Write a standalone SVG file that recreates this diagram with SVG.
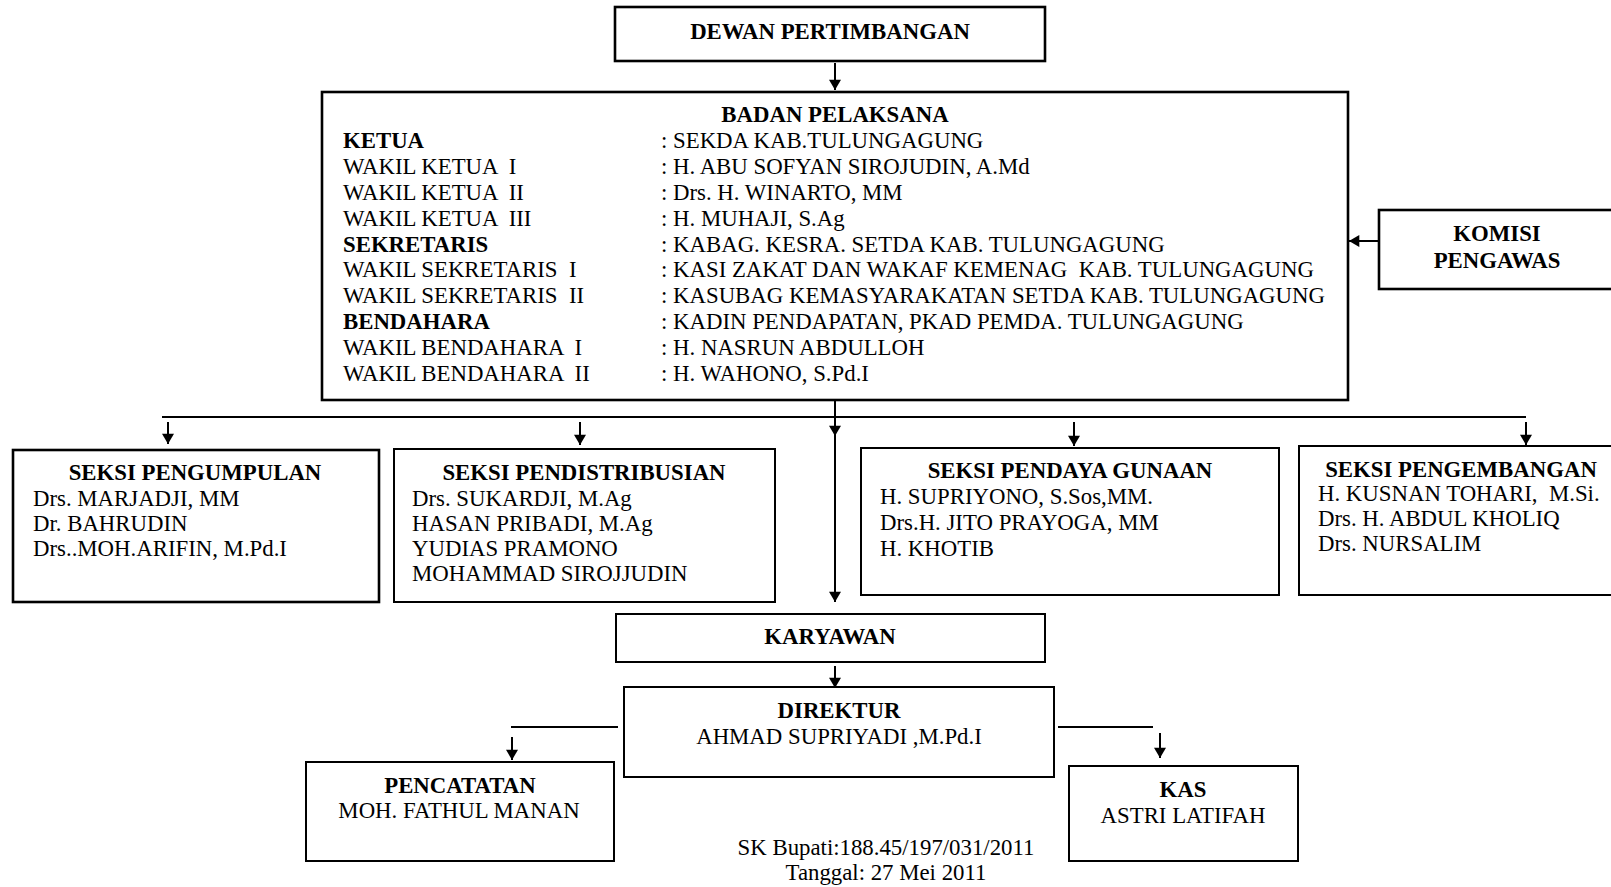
<svg xmlns="http://www.w3.org/2000/svg" width="1611" height="887" viewBox="0 0 1611 887">
<style>
text{font-family:"Liberation Serif","Times New Roman",serif;font-size:22.8px;fill:#000;white-space:pre}
.b{font-weight:bold}
.c{text-anchor:middle}
.box{fill:#fff;stroke:#000;stroke-width:2}
.bx{fill:#fff;stroke:#000;stroke-width:2.6}
.ln{fill:none;stroke:#000;stroke-width:2}
.ar{fill:none;stroke:#000;stroke-width:2;marker-end:url(#ah)}
</style>
<defs>
<marker id="ah" viewBox="0 0 12 14" refX="12" refY="7" markerWidth="14" markerHeight="12" markerUnits="userSpaceOnUse" orient="auto">
<path d="M0,0 L12,7 L0,14 Z" fill="#000"/>
</marker>
</defs>
<rect width="1611" height="887" fill="#fff"/>

<g id="connectors">
<path class="ar" d="M835,63 V90"/>
<path class="ar" d="M1379,241 H1349"/>
<path class="ar" d="M835,392 V436"/>
<path class="ar" d="M835,430 V602"/>
<path class="ln" d="M162,417 H1526"/>
<path class="ar" d="M168,422 V444"/>
<path class="ar" d="M580,422 V445"/>
<path class="ar" d="M1074,422 V446"/>
<path class="ar" d="M1526,422 V445"/>
<path class="ar" d="M835,666 V688"/>
<path class="ln" d="M511,727 H618"/>
<path class="ar" d="M512,737 V760"/>
<path class="ln" d="M1058,727 H1153"/>
<path class="ar" d="M1160,733 V758"/>
</g>

<g id="dewan">
<rect class="bx" x="615" y="7" width="430" height="54"/>
<text class="b c" x="830" y="39">DEWAN PERTIMBANGAN</text>
</g>

<g id="badan">
<rect class="bx" x="322" y="92" width="1026" height="308"/>
<text class="b c" x="835" y="122">BADAN PELAKSANA</text>
<text class="b" x="343" y="148">KETUA</text>
<text x="343" y="174">WAKIL KETUA  I</text>
<text x="343" y="200">WAKIL KETUA  II</text>
<text x="343" y="226">WAKIL KETUA  III</text>
<text class="b" x="343" y="252">SEKRETARIS</text>
<text x="343" y="277">WAKIL SEKRETARIS  I</text>
<text x="343" y="303">WAKIL SEKRETARIS  II</text>
<text class="b" x="343" y="329">BENDAHARA</text>
<text x="343" y="355">WAKIL BENDAHARA  I</text>
<text x="343" y="381">WAKIL BENDAHARA  II</text>
<text x="661" y="148">: SEKDA KAB.TULUNGAGUNG</text>
<text x="661" y="174">: H. ABU SOFYAN SIROJUDIN, A.Md</text>
<text x="661" y="200">: Drs. H. WINARTO, MM</text>
<text x="661" y="226">: H. MUHAJI, S.Ag</text>
<text x="661" y="252">: KABAG. KESRA. SETDA KAB. TULUNGAGUNG</text>
<text x="661" y="277">: KASI ZAKAT DAN WAKAF KEMENAG  KAB. TULUNGAGUNG</text>
<text x="661" y="303">: KASUBAG KEMASYARAKATAN SETDA KAB. TULUNGAGUNG</text>
<text x="661" y="329">: KADIN PENDAPATAN, PKAD PEMDA. TULUNGAGUNG</text>
<text x="661" y="355">: H. NASRUN ABDULLOH</text>
<text x="661" y="381">: H. WAHONO, S.Pd.I</text>
</g>

<g id="komisi">
<rect class="bx" x="1379" y="210" width="240" height="79"/>
<text class="b c" x="1497" y="241">KOMISI</text>
<text class="b c" x="1497" y="268">PENGAWAS</text>
</g>

<g id="seksi-pengumpulan">
<rect class="bx" x="13" y="450" width="366" height="152"/>
<text class="b c" x="195" y="480">SEKSI PENGUMPULAN</text>
<text x="33" y="506">Drs. MARJADJI, MM</text>
<text x="33" y="531">Dr. BAHRUDIN</text>
<text x="33" y="556">Drs..MOH.ARIFIN, M.Pd.I</text>
</g>

<g id="seksi-pendistribusian">
<rect class="box" x="394" y="449" width="381" height="153"/>
<text class="b c" x="584" y="480">SEKSI PENDISTRIBUSIAN</text>
<text x="412" y="506">Drs. SUKARDJI, M.Ag</text>
<text x="412" y="531">HASAN PRIBADI, M.Ag</text>
<text x="412" y="556">YUDIAS PRAMONO</text>
<text x="412" y="581">MOHAMMAD SIROJJUDIN</text>
</g>

<g id="seksi-pendaya-gunaan">
<rect class="box" x="861" y="448" width="418" height="147"/>
<text class="b c" x="1070" y="478">SEKSI PENDAYA GUNAAN</text>
<text x="880" y="504">H. SUPRIYONO, S.Sos,MM.</text>
<text x="880" y="530">Drs.H. JITO PRAYOGA, MM</text>
<text x="880" y="556">H. KHOTIB</text>
</g>

<g id="seksi-pengembangan">
<rect class="box" x="1299" y="446" width="320" height="149"/>
<text class="b c" x="1461" y="477">SEKSI PENGEMBANGAN</text>
<text x="1318" y="501">H. KUSNAN TOHARI,  M.Si.</text>
<text x="1318" y="526">Drs. H. ABDUL KHOLIQ</text>
<text x="1318" y="551">Drs. NURSALIM</text>
</g>

<g id="karyawan">
<rect class="box" x="616" y="614" width="429" height="48"/>
<text class="b c" x="830" y="644">KARYAWAN</text>
</g>

<g id="direktur">
<rect class="box" x="624" y="687" width="430" height="90"/>
<text class="b c" x="839" y="718">DIREKTUR</text>
<text class="c" x="839" y="744">AHMAD SUPRIYADI ,M.Pd.I</text>
</g>

<g id="pencatatan">
<rect class="box" x="306" y="762" width="308" height="99"/>
<text class="b c" x="460" y="793">PENCATATAN</text>
<text class="c" x="459" y="818">MOH. FATHUL MANAN</text>
</g>

<g id="kas">
<rect class="box" x="1069" y="766" width="229" height="95"/>
<text class="b c" x="1183" y="797">KAS</text>
<text class="c" x="1183" y="823">ASTRI LATIFAH</text>
</g>

<g id="footer">
<text class="c" x="886" y="855">SK Bupati:188.45/197/031/2011</text>
<text class="c" x="886" y="880">Tanggal: 27 Mei 2011</text>
</g>
</svg>
